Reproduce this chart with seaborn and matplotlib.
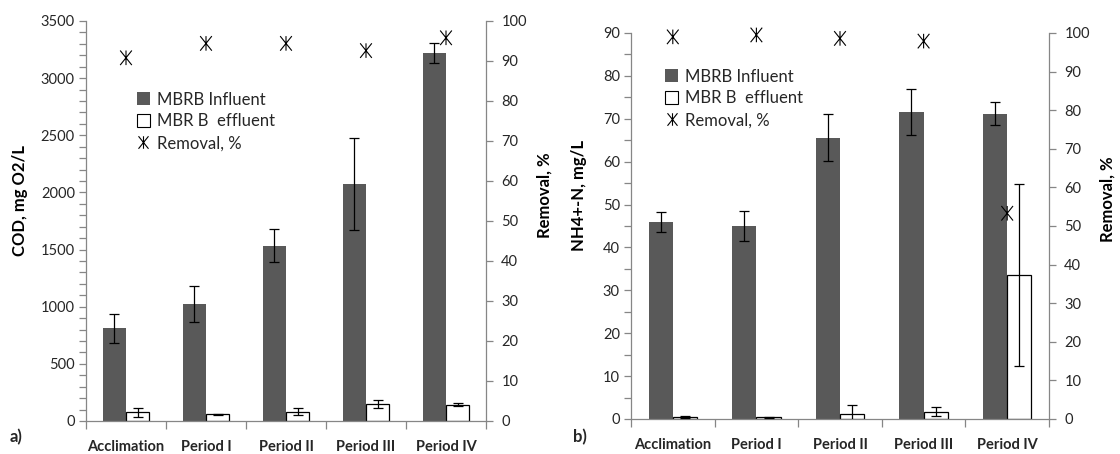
import matplotlib
matplotlib.use('Agg')
import matplotlib.pyplot as plt
from matplotlib.patches import Patch
from matplotlib.lines import Line2D
from matplotlib.path import Path
from matplotlib.ticker import MultipleLocator
import numpy as np
import pandas as pd
import seaborn as sns

periods = ['Acclimation', 'Period I', 'Period II', 'Period III', 'Period IV']
series = ['MBRB Influent', 'MBR B  effluent']

# panel a: COD
cod_influent = [810, 1020, 1535, 2075, 3220]
cod_influent_sd = [130, 157, 147, 405, 85]
cod_effluent = [76, 58, 82, 151, 143]
cod_effluent_sd = [40, 7, 32, 35, 12]
cod_removal = [90.8, 94.4, 94.4, 92.6, 95.8]

# panel b: NH4+-N
nh4_influent = [46.0, 45.1, 65.6, 71.6, 71.2]
nh4_influent_sd = [2.3, 3.5, 5.4, 5.3, 2.7]
nh4_effluent = [0.45, 0.4, 1.1, 1.7, 33.6]
nh4_effluent_sd = [0.15, 0.1, 2.2, 1.1, 21.2]
nh4_removal = [99.0, 99.5, 98.6, 97.9, 53.3]

sns.set_style('white')
plt.rcParams['font.family'] = ['Lato', 'DejaVu Sans']

GREY = '#868686'
DARK = '#595959'
TXT = '#262626'

# asterisk-like marker: an x with a vertical stroke
STAR = Path([(-0.8, -1), (0.8, 1), (-0.8, 1), (0.8, -1), (0, -1), (0, 1)],
            [Path.MOVETO, Path.LINETO, Path.MOVETO, Path.LINETO, Path.MOVETO, Path.LINETO])


def make_df(inf, inf_sd, eff, eff_sd):
    return pd.DataFrame({
        'period': periods * 2,
        'series': [series[0]] * 5 + [series[1]] * 5,
        'value': inf + eff,
        'sd': inf_sd + eff_sd,
    })


def draw_panel(ax, df, removal, ymax, major, minor, ylabel, leg_anchor, lab_l, lab_r):
    sns.barplot(data=df, x='period', y='value', hue='series', order=periods,
                hue_order=series, palette=[DARK, 'white'], width=0.58, gap=0,
                errorbar=None, legend=False, ax=ax, saturation=1)
    bars = [p for p in ax.patches]
    for i, p in enumerate(bars):
        if i >= 5:
            p.set_edgecolor('black')
            p.set_linewidth(0.9)
        else:
            p.set_edgecolor('none')
    xs = [p.get_x() + p.get_width() / 2 for p in bars]
    tops = [p.get_height() for p in bars]
    ax.errorbar(xs, tops, yerr=df['sd'].values, fmt='none', ecolor='black',
                elinewidth=0.9, capsize=3.5, capthick=0.9, zorder=5)
    ax.set_ylim(0, ymax)
    ax.set_xlim(-0.5, 4.5)
    ax.yaxis.set_major_locator(MultipleLocator(major))
    ax.yaxis.set_minor_locator(MultipleLocator(minor))
    ax.set_xticks(np.arange(-0.5, 5, 1), minor=False)
    ax.set_xticks(range(5), minor=True)
    ax.set_xticklabels([''] * 6)
    ax.set_xticklabels(periods, minor=True, fontsize=10.5, fontweight='bold', color=TXT)
    ax.tick_params(axis='x', which='major', length=6, color=GREY, width=0.9, direction='out', bottom=True)
    ax.tick_params(axis='x', which='minor', length=0, pad=13.5)
    ax.tick_params(axis='y', which='major', length=5, color=GREY, width=0.9, left=True,
                   labelsize=10.5, labelcolor=TXT, pad=3)
    ax.tick_params(axis='y', which='minor', length=5, color=GREY, width=0.9, left=True)
    ax.set_xlabel('')
    ax.set_ylabel(ylabel, fontsize=12, fontweight='bold', color='black', va='center', ha='center')
    ax.yaxis.set_label_coords(*lab_l)
    for s in ['left', 'bottom']:
        ax.spines[s].set_color(GREY)
        ax.spines[s].set_linewidth(0.9)
    ax.spines['top'].set_visible(False)
    ax.spines['right'].set_visible(False)

    ax2 = ax.twinx()
    ax2.scatter(range(5), removal, marker=STAR, s=110, facecolor='none', edgecolor='black',
                linewidths=0.8, zorder=6, clip_on=False)
    ax2.set_ylim(0, 100)
    ax2.yaxis.set_major_locator(MultipleLocator(10))
    ax2.tick_params(axis='y', length=5, color=GREY, width=0.9, right=True,
                    labelsize=10.5, labelcolor=TXT, pad=6)
    ax2.set_ylabel('Removal, %', fontsize=12, fontweight='bold', color='black',
                   va='center', ha='center', rotation=90)
    ax2.yaxis.set_label_coords(*lab_r)
    for s in ['left', 'top', 'bottom']:
        ax2.spines[s].set_visible(False)
    ax2.spines['right'].set_color(GREY)
    ax2.spines['right'].set_linewidth(0.9)
    ax2.grid(False)

    handles = [Patch(facecolor=DARK, edgecolor='none'),
               Patch(facecolor='white', edgecolor='black', linewidth=0.8),
               Line2D([], [], marker=STAR, color='black', linestyle='none',
                      markersize=9, markeredgewidth=0.8, markerfacecolor='none')]
    leg = ax.legend(handles, ['MBRB Influent', 'MBR B  effluent', 'Removal, %'],
                    loc='upper left', bbox_to_anchor=leg_anchor, frameon=False,
                    fontsize=12, handlelength=0.8, handleheight=0.8, handletextpad=0.4,
                    labelspacing=0.35, borderaxespad=0)
    for t in leg.get_texts():
        t.set_color(TXT)
    return ax2


fig = plt.figure(figsize=(11.2, 4.54), dpi=100)
ax_a = fig.add_axes([86 / 1120, 1 - 421 / 454, 400 / 1120, 400 / 454])
ax_b = fig.add_axes([631 / 1120, 1 - 419 / 454, 418 / 1120, 386 / 454])

df_a = make_df(cod_influent, cod_influent_sd, cod_effluent, cod_effluent_sd)
df_b = make_df(nh4_influent, nh4_influent_sd, nh4_effluent, nh4_effluent_sd)

draw_panel(ax_a, df_a, cod_removal, 3500, 500, 100, 'COD, mg O2/L', (0.11, 0.84),
           (-0.165, 0.55), (1.1475, 0.565))
draw_panel(ax_b, df_b, nh4_removal, 90, 10, 5, 'NH4+-N, mg/L', (0.065, 0.925),
           (-0.124, 0.578), (1.14, 0.57))

fig.text(10 / 1120, 1 - 437 / 454, 'a)', fontsize=12, fontweight='bold', va='center')
fig.text(573 / 1120, 1 - 437 / 454, 'b)', fontsize=12, fontweight='bold', va='center')

fig.savefig('out.png', dpi=100)
